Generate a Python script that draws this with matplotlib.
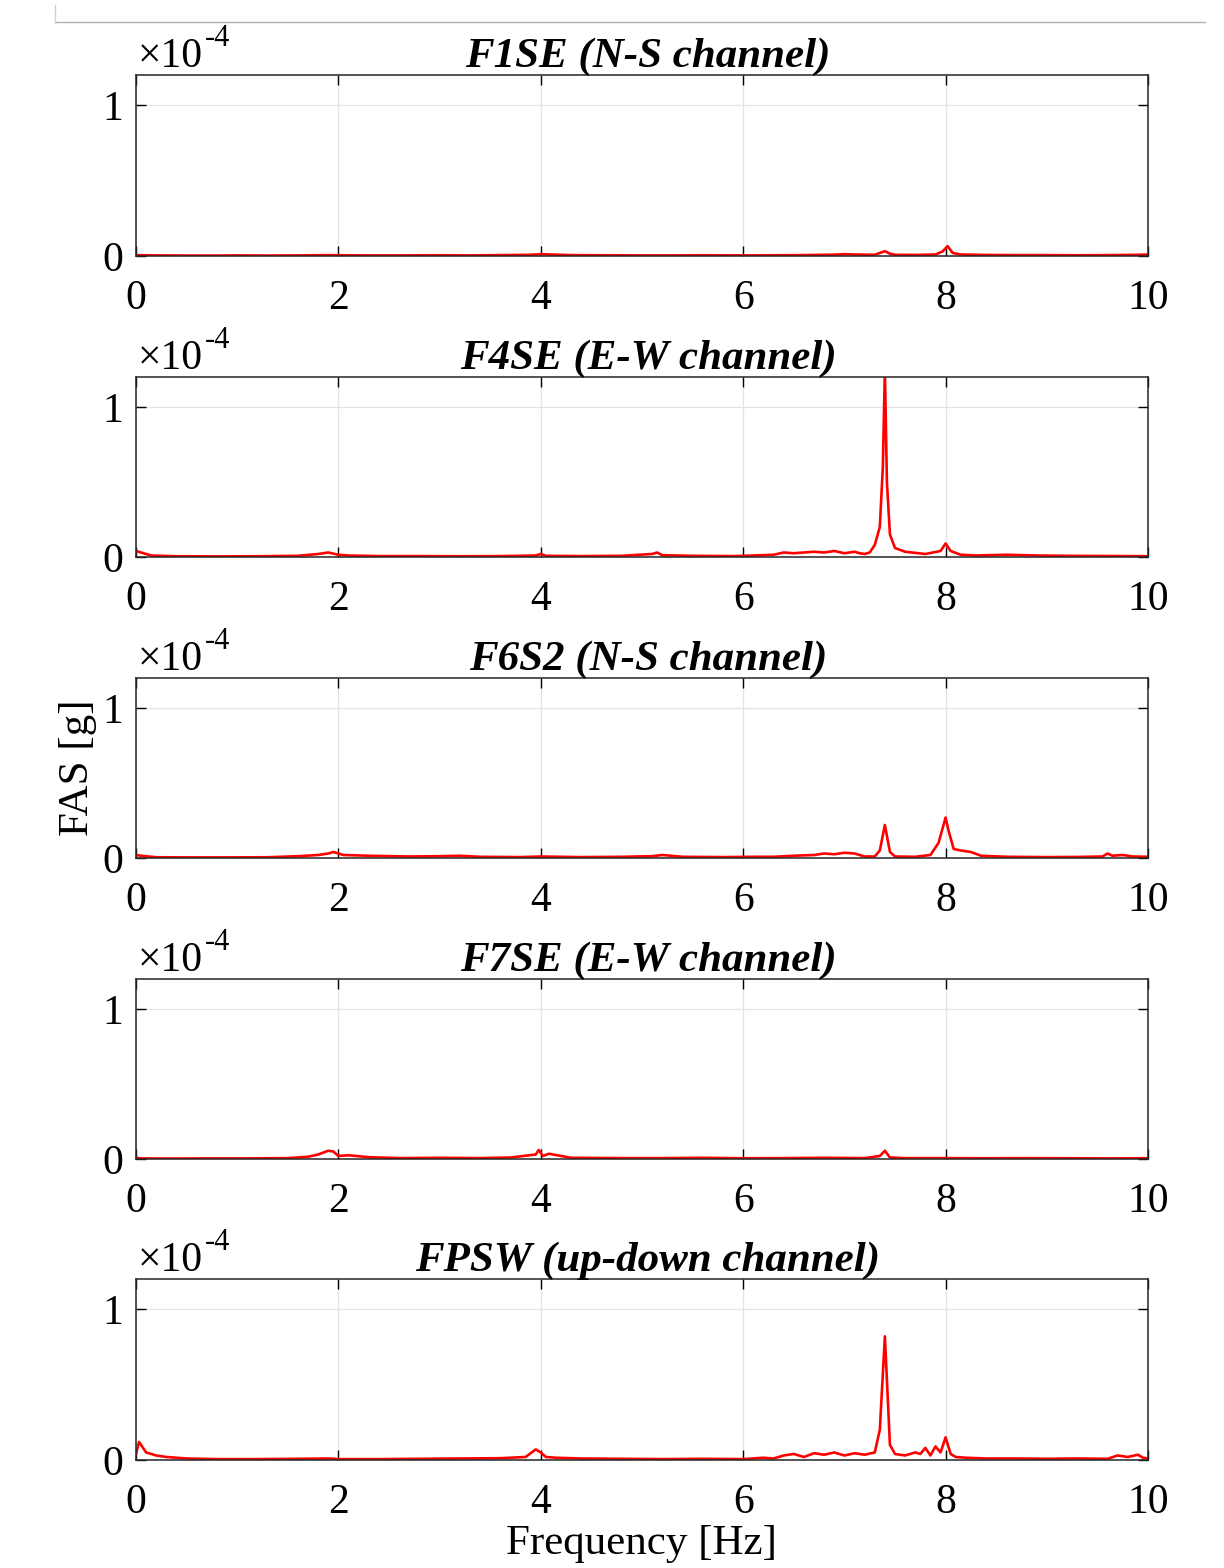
import matplotlib
matplotlib.use('Agg')
import matplotlib.pyplot as plt
from matplotlib.lines import Line2D
import numpy as np

plt.rcParams['font.family'] = ['Liberation Serif', 'DejaVu Serif']

# FAS spectra, amplitude in units of 1e-4 g
titles = ['F1SE (N-S channel)', 'F4SE (E-W channel)', 'F6S2 (N-S channel)',
          'F7SE (E-W channel)', 'FPSW (up-down channel)']

f_f1se = [0, 0.2, 0.5, 0.8, 1.0, 1.3, 1.6, 1.9, 2.0, 2.3, 2.6, 3.0, 3.3, 3.6, 3.9, 4.0, 4.1, 4.3,
          4.6, 5.0, 5.3, 5.6, 6.0, 6.3, 6.6, 6.9, 7.0, 7.1, 7.3, 7.35, 7.4, 7.45, 7.5, 7.7, 7.9,
          7.97, 8.02, 8.07, 8.15, 8.4, 8.7, 9.0, 9.3, 9.6, 9.9, 10]
a_f1se = [0.006, 0.004, 0.003, 0.003, 0.004, 0.003, 0.004, 0.006, 0.005, 0.004, 0.004, 0.005,
          0.004, 0.006, 0.008, 0.012, 0.010, 0.006, 0.005, 0.004, 0.004, 0.005, 0.004, 0.005,
          0.006, 0.009, 0.012, 0.010, 0.008, 0.02, 0.032, 0.015, 0.008, 0.007, 0.01, 0.03, 0.065,
          0.02, 0.01, 0.007, 0.006, 0.006, 0.005, 0.006, 0.008, 0.01]

f_f4se = [0, 0.05, 0.15, 0.4, 0.8, 1.2, 1.6, 1.8, 1.9, 2.0, 2.1, 2.4, 2.8, 3.2, 3.6, 3.95, 4.0,
          4.05, 4.4, 4.8, 5.1, 5.15, 5.2, 5.5, 5.9, 6.1, 6.3, 6.4, 6.5, 6.6, 6.7, 6.8, 6.9, 7.0,
          7.1, 7.15, 7.2, 7.25, 7.3, 7.35, 7.38, 7.4, 7.42, 7.45, 7.5, 7.6, 7.8, 7.95, 8.0, 8.05,
          8.15, 8.3, 8.6, 8.9, 9.2, 9.5, 9.8, 10]
a_f4se = [0.04, 0.03, 0.01, 0.005, 0.004, 0.005, 0.008, 0.02, 0.03, 0.015, 0.01, 0.006, 0.006,
          0.005, 0.006, 0.01, 0.02, 0.008, 0.006, 0.008, 0.02, 0.03, 0.012, 0.008, 0.006, 0.01,
          0.015, 0.03, 0.025, 0.03, 0.035, 0.03, 0.04, 0.025, 0.035, 0.025, 0.02, 0.03, 0.08,
          0.2, 0.6, 1.25, 0.5, 0.15, 0.06, 0.035, 0.02, 0.04, 0.09, 0.04, 0.015, 0.01, 0.015,
          0.01, 0.008, 0.007, 0.006, 0.005]

f_f6s2 = [0, 0.05, 0.2, 0.5, 0.9, 1.3, 1.6, 1.8, 1.9, 1.95, 2.05, 2.3, 2.7, 3.0, 3.2, 3.4, 3.8,
          4.0, 4.4, 4.8, 5.1, 5.2, 5.4, 5.8, 6.1, 6.3, 6.5, 6.7, 6.8, 6.9, 7.0, 7.1, 7.2, 7.3,
          7.35, 7.4, 7.45, 7.5, 7.7, 7.85, 7.93, 8.0, 8.03, 8.08, 8.15, 8.25, 8.35, 8.6, 9.0,
          9.3, 9.55, 9.6, 9.65, 9.75, 9.85, 10]
a_f6s2 = [0.02, 0.015, 0.005, 0.004, 0.004, 0.005, 0.012, 0.02, 0.03, 0.04, 0.02, 0.015, 0.01,
          0.012, 0.015, 0.008, 0.006, 0.01, 0.006, 0.008, 0.012, 0.02, 0.008, 0.006, 0.008,
          0.008, 0.015, 0.02, 0.03, 0.025, 0.035, 0.03, 0.01, 0.01, 0.05, 0.22, 0.04, 0.01,
          0.008, 0.02, 0.1, 0.27, 0.18, 0.06, 0.05, 0.04, 0.015, 0.008, 0.006, 0.007, 0.01,
          0.03, 0.015, 0.02, 0.01, 0.008]

f_f7se = [0, 0.05, 0.3, 0.7, 1.1, 1.5, 1.7, 1.8, 1.9, 1.95, 2.0, 2.1, 2.3, 2.6, 3.0, 3.4, 3.7,
          3.95, 3.98, 4.02, 4.08, 4.3, 4.8, 5.2, 5.6, 6.0, 6.4, 6.8, 7.2, 7.35, 7.4, 7.45, 7.6,
          8.0, 8.4, 8.8, 9.2, 9.6, 10]
a_f7se = [0.008, 0.004, 0.003, 0.004, 0.004, 0.006, 0.015, 0.03, 0.055, 0.05, 0.02, 0.025,
          0.012, 0.006, 0.008, 0.006, 0.01, 0.03, 0.06, 0.02, 0.035, 0.008, 0.006, 0.006, 0.008,
          0.005, 0.006, 0.008, 0.006, 0.02, 0.055, 0.01, 0.006, 0.006, 0.005, 0.006, 0.005,
          0.004, 0.005]

f_fpsw = [0, 0.03, 0.06, 0.1, 0.2, 0.3, 0.5, 0.8, 1.2, 1.6, 1.9, 2.0, 2.4, 2.8, 3.2, 3.6, 3.85,
          3.95, 4.0, 4.05, 4.15, 4.4, 4.8, 5.2, 5.6, 6.0, 6.2, 6.3, 6.4, 6.5, 6.6, 6.7, 6.8, 6.9,
          7.0, 7.1, 7.2, 7.3, 7.35, 7.4, 7.45, 7.5, 7.6, 7.7, 7.75, 7.8, 7.85, 7.9, 7.95, 8.0,
          8.05, 8.1, 8.2, 8.4, 8.7, 9.0, 9.3, 9.6, 9.7, 9.8, 9.9, 9.95, 10]
a_fpsw = [0.04, 0.12, 0.09, 0.05, 0.03, 0.02, 0.01, 0.006, 0.006, 0.008, 0.01, 0.006, 0.006,
          0.008, 0.01, 0.012, 0.02, 0.07, 0.05, 0.02, 0.015, 0.01, 0.008, 0.006, 0.008, 0.006,
          0.015, 0.01, 0.03, 0.04, 0.02, 0.045, 0.035, 0.05, 0.03, 0.045, 0.035, 0.05, 0.2,
          0.82, 0.1, 0.04, 0.03, 0.05, 0.04, 0.08, 0.03, 0.09, 0.05, 0.15, 0.04, 0.02, 0.015,
          0.01, 0.01, 0.008, 0.01, 0.008, 0.03, 0.02, 0.035, 0.015, 0.01]

freqs = [f_f1se, f_f4se, f_f6s2, f_f7se, f_fpsw]
amps = [a_f1se, a_f4se, a_f6s2, a_f7se, a_fpsw]

#==============================================================================
W, H = 1224, 1568
fig = plt.figure(figsize=(W / 100, H / 100), dpi=100)

# frame line of the original screenshot
fig.add_artist(Line2D([55 / W, 1205 / W], [1 - 22 / H, 1 - 22 / H], color='#b0b0b0', lw=1))
fig.add_artist(Line2D([55 / W, 55 / W], [1 - 22 / H, 1 - 5 / H], color='#d0d0d0', lw=1))

left, right = 136, 1148
tops = [75, 377, 678, 979, 1279]
bots = [256, 557, 858, 1159, 1460]
fs = 30

for i in range(5):
    ax = fig.add_axes([left / W, 1 - bots[i] / H, (right - left) / W, (bots[i] - tops[i]) / H])
    ax.plot(freqs[i], amps[i], color='red', lw=1.9)
    ax.set_xlim(0, 10)
    ax.set_ylim(0, 1.2)
    ax.set_xticks([0, 2, 4, 6, 8, 10])
    ax.set_yticks([0, 1])
    ax.grid(True, color='#e3e3e3', lw=0.9)
    ax.tick_params(direction='in', top=True, right=True, length=7, width=1,
                   labelsize=fs)
    ax.tick_params(axis='x', pad=17)
    ax.tick_params(axis='y', pad=9)
    for s in ax.spines.values():
        s.set_linewidth(1.1)
        s.set_color('#262626')
    ax.set_title(titles[i], fontsize=31, fontweight='bold', fontstyle='italic', pad=6, x=0.506)
    # MATLAB-style exponent label
    fig.text(138 / W, 1 - (tops[i] - 8) / H, '\u00d710', fontsize=fs, va='baseline', ha='left')
    fig.text(205 / W, 1 - (tops[i] - 29) / H, '-4', fontsize=22, va='baseline', ha='left')
    if i == 2:
        ax.set_ylabel('FAS [g]', fontsize=31, labelpad=4)
    if i == 4:
        ax.set_xlabel('Frequency [Hz]', fontsize=31, labelpad=2)

fig.savefig('out.png', dpi=100)
